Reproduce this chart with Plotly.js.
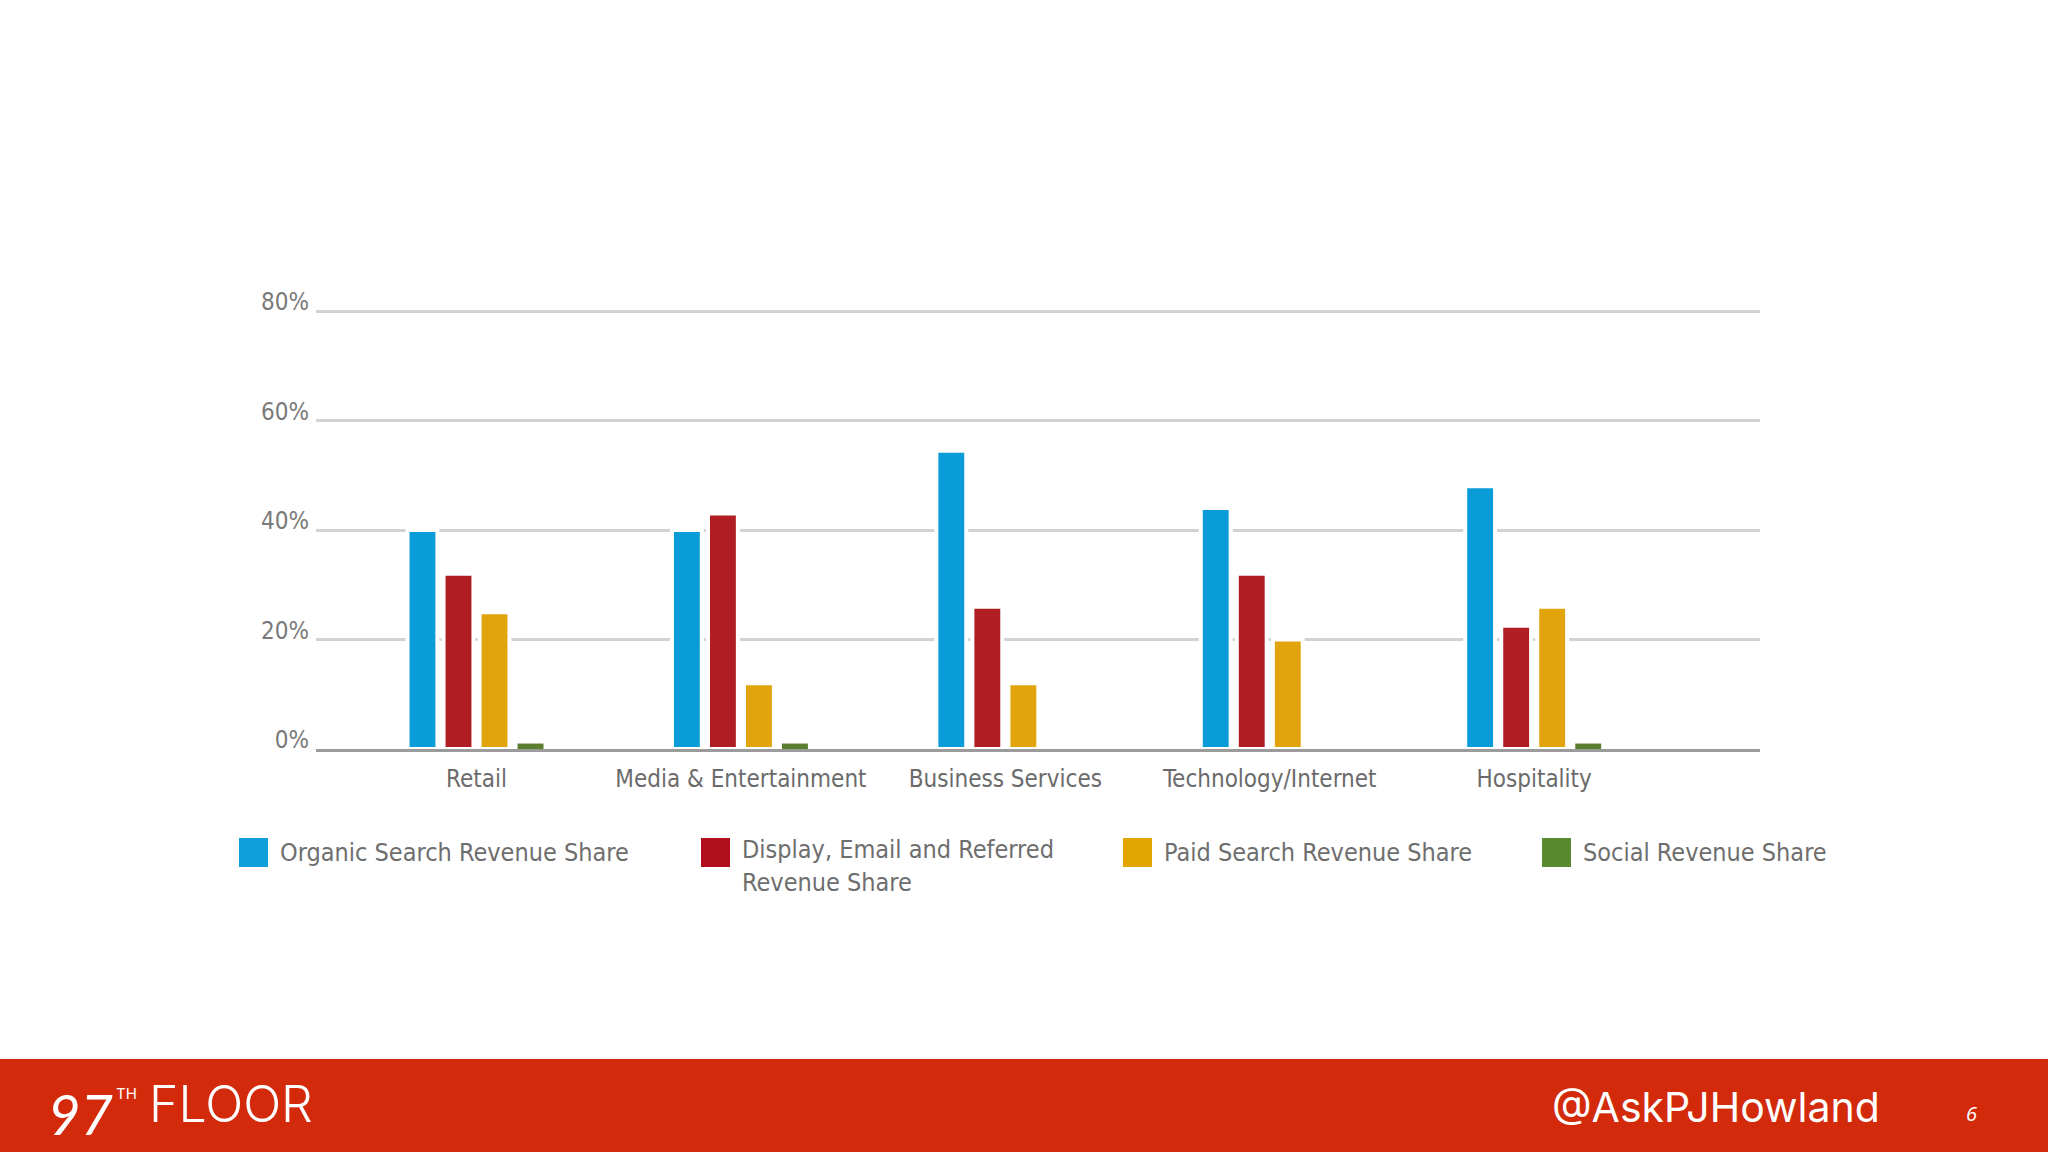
<!DOCTYPE html>
<html>
<head>
<meta charset="utf-8">
<script src="https://cdn.plot.ly/plotly-3.0.1.min.js"></script>
<style>
  html, body { margin: 0; padding: 0; background: #ffffff; }
  #chart { width: 2048px; height: 1152px; }
</style>
</head>
<body>
<div id="chart"></div>
<script>
// ---- data ----
const categories = ['Retail', 'Media & Entertainment', 'Business Services', 'Technology/Internet', 'Hospitality'];
const organicShare = [40, 40, 54.5, 44, 48];
const displayShare = [32, 43, 26, 32, 22.5];
const paidShare = [25, 12, 12, 20, 26];
const socialShare = [1, 1, 0, 0, 1];
const seriesNames = ['Organic Search Revenue Share', 'Display, Email and Referred<br>Revenue Share', 'Paid Search Revenue Share', 'Social Revenue Share'];
const yTickVals = [0, 20, 40, 60, 80];
const yTickText = ['0%', '20%', '40%', '60%', '80%'];
const footerLogo = '97';
const footerLeft = 'FLOOR';
const footerHandle = '@AskPJHowland';
const pageNumber = '6';

// ---- styling ----
const colors = ['#0A9CD9', '#B01E24', '#E1A40C', '#5B7F2F'];
const legendColors = ['#0F9FDA', '#B0101C', '#E3A502', '#5A8A30'];
const condFont = '"Liberation Sans Narrow", "DejaVu Sans Condensed", "Roboto Condensed", "Liberation Sans", sans-serif';
const W = 2048, H = 1152, L = 316, R = 288, T = 305, B = 403;
const pw = W - L - R, ph = H - T - B;
const px2x = p => (p - L) / pw;
const py2y = p => (H - B - p) / ph;

const seriesValues = [organicShare, displayShare, paidShare, socialShare];
// white outline gives the gaps in the gridlines around bars; the thin social bars get none
const outlineWidths = [4, 4, 4, 0];
const barWidths = [0.113, 0.113, 0.113, 0.098];
const traces = seriesValues.map((vals, i) => ({
  type: 'bar',
  x: categories,
  y: vals,
  name: seriesNames[i],
  width: barWidths[i],
  marker: { color: colors[i], line: { color: '#ffffff', width: outlineWidths[i] } },
  showlegend: false,
  hoverinfo: 'x+y'
}));

// custom legend (large square swatches)
const legendSwatchX = [239, 701, 1123, 1542];
const legendTextY = [852, 866, 852, 852];
const shapes = [];
const annotations = [];
seriesNames.forEach((nm, i) => {
  shapes.push({
    type: 'rect', xref: 'paper', yref: 'paper',
    x0: px2x(legendSwatchX[i]), x1: px2x(legendSwatchX[i] + 29),
    y0: py2y(838), y1: py2y(867),
    fillcolor: legendColors[i], line: { width: 0 }
  });
  annotations.push({
    xref: 'paper', yref: 'paper', x: px2x(legendSwatchX[i] + 39), y: py2y(legendTextY[i]),
    xanchor: 'left', yanchor: 'middle', align: 'left', showarrow: false,
    text: nm, font: { family: condFont, size: 25, color: '#6e6e6e' }
  });
});

// footer band
shapes.push({
  type: 'rect', xref: 'paper', yref: 'paper', layer: 'below',
  x0: px2x(0), x1: px2x(W), y0: py2y(1059), y1: py2y(H),
  fillcolor: '#D42A0C', line: { width: 0 }
});
const footFont = 'Inter, "Open Sans", Lato, sans-serif';
annotations.push({
  xref: 'paper', yref: 'paper', x: px2x(46), y: py2y(1113), xanchor: 'left', yanchor: 'middle',
  showarrow: false, text: '<i>' + footerLogo + '</i>', font: { family: 'Lato, sans-serif', size: 56, color: '#ffffff' }
});
annotations.push({
  xref: 'paper', yref: 'paper', x: px2x(114), y: py2y(1093), xanchor: 'left', yanchor: 'middle',
  showarrow: false, text: 'TH', font: { family: footFont, size: 15, color: '#ffffff' }
});
annotations.push({
  xref: 'paper', yref: 'paper', x: px2x(147), y: py2y(1104), xanchor: 'left', yanchor: 'middle',
  showarrow: false, text: footerLeft, font: { family: footFont, size: 50, weight: 300, color: '#ffffff' }
});
annotations.push({
  xref: 'paper', yref: 'paper', x: px2x(1550), y: py2y(1107), xanchor: 'left', yanchor: 'middle',
  showarrow: false, text: footerHandle, font: { family: footFont, size: 41, color: '#ffffff' }
});
annotations.push({
  xref: 'paper', yref: 'paper', x: px2x(1971), y: py2y(1113), xanchor: 'center', yanchor: 'middle',
  showarrow: false, text: '<i>' + pageNumber + '</i>', font: { family: '"Open Sans", sans-serif', size: 20, color: '#ffffff' }
});

const layout = {
  width: W, height: H,
  margin: { l: L, r: R, t: T, b: B, pad: 0 },
  paper_bgcolor: '#ffffff', plot_bgcolor: '#ffffff',
  barmode: 'group', bargap: 0.455, bargroupgap: 0.111,
  showlegend: false,
  xaxis: {
    type: 'category', range: [-0.607, 4.854],
    showgrid: false, zeroline: false,
    showline: true, linecolor: '#9b9b9b', linewidth: 3, layer: 'above traces',
    ticks: 'outside', ticklen: 6, tickcolor: 'rgba(0,0,0,0)',
    tickfont: { family: condFont, size: 24, color: '#6b6b6b' },
    fixedrange: true
  },
  yaxis: {
    range: [0, 81.1],
    tickmode: 'array', tickvals: yTickVals, ticktext: yTickText,
    showgrid: true, gridcolor: '#d2d2d2', gridwidth: 3,
    zeroline: false, showline: false, ticks: '',
    ticklabelstandoff: 6, ticklabelshift: -9,
    tickfont: { family: condFont, size: 24, color: '#7a7a7a' },
    fixedrange: true
  },
  shapes: shapes,
  annotations: annotations
};

Plotly.newPlot('chart', traces, layout, { displayModeBar: false, staticPlot: true });
</script>
</body>
</html>
